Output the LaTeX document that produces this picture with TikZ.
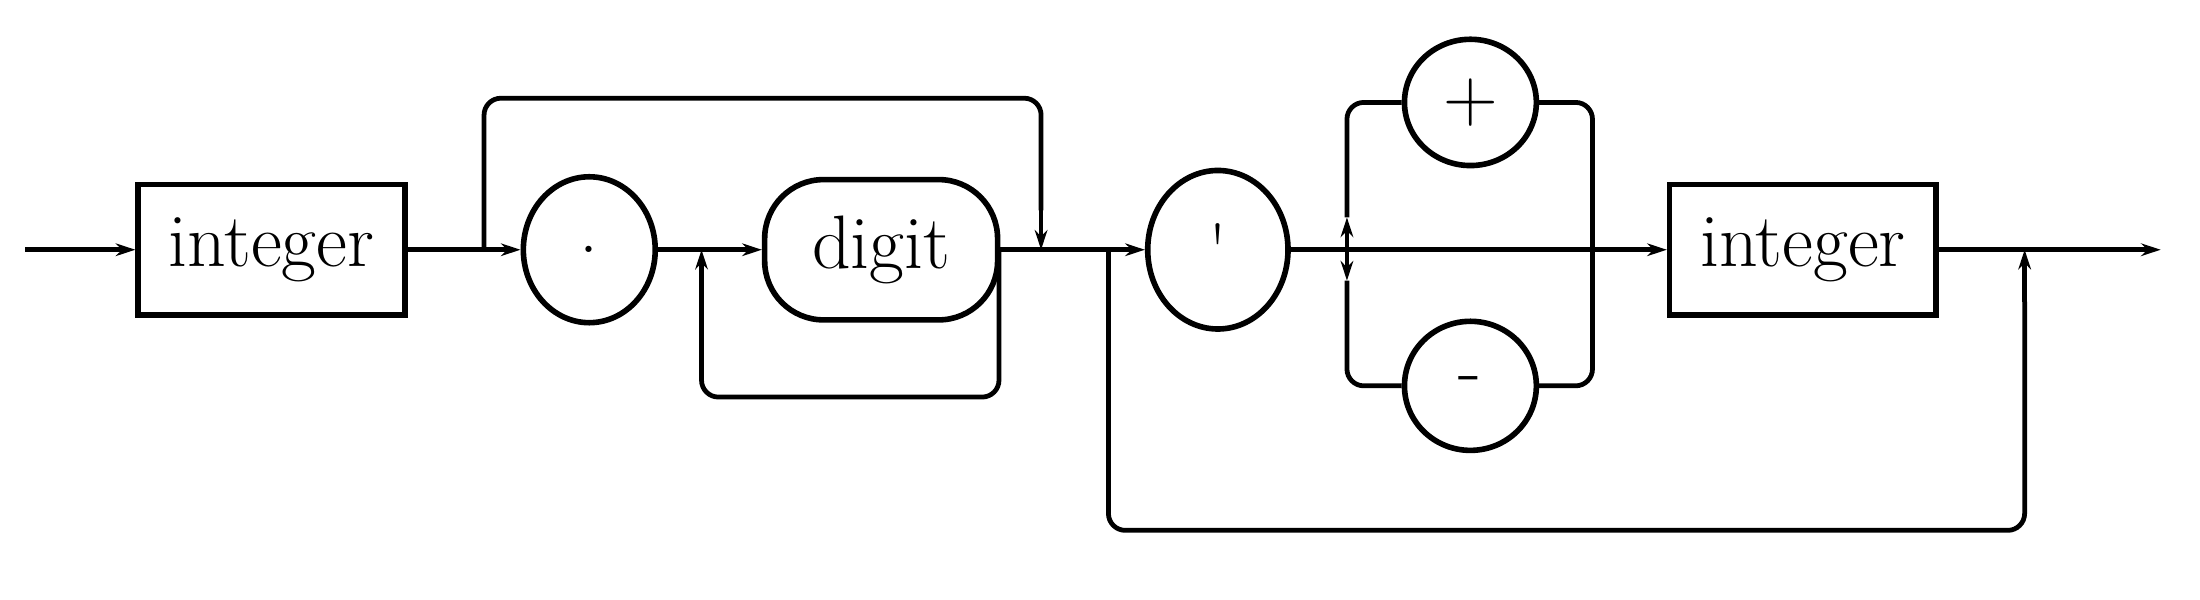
\documentclass[tikz,border=0pt]{standalone}
\usetikzlibrary{shapes.geometric,arrows.meta,decorations.markings}
\begin{document}
\begin{tikzpicture}[x=1pt,y=-1pt,
  line/.style={line width=3.4pt,rounded corners=12pt},
  arr/.style={-{Stealth[length=14pt,width=9pt]}},
  txt/.style={font=\fontsize{54}{60}\selectfont},
  box/.style={draw,line width=4pt,minimum width=190pt,minimum height=93pt,inner sep=0pt,txt},
  oval/.style={draw,ellipse,line width=4pt,inner sep=0pt,txt},
  rbox/.style={draw,line width=4pt,rounded corners=42pt,minimum width=166pt,minimum height=100pt,inner sep=0pt,txt}]
\useasboundingbox (0,0) rectangle (1568,427);
\node[box] (int1) at (193.5,178) {integer};
\node[oval,minimum width=94pt,minimum height=104pt] (dot) at (420,178) {.};
\node[rbox] (digit) at (628,178) {digit};
\node[oval,minimum width=100pt,minimum height=113pt] (q) at (868,178) {\textquotesingle};
\node[oval,minimum width=94pt,minimum height=90pt] (plus) at (1048,73) {+};
\node[oval,minimum width=94pt,minimum height=92pt] (minus) at (1048,275) {-};
\node[box] (int2) at (1285,178) {integer};
\coordinate (s) at (18,178);
\coordinate (j1) at (345,178);
\coordinate (j2) at (500,178);
\coordinate (j3) at (742,178);
\coordinate (j4) at (790,178);
\coordinate (j5) at (960,178);
\coordinate (j7) at (1135,178);
\coordinate (j6) at (1443,178);
\coordinate (jd) at (712,178);
\coordinate (e) at (1540,178);
\draw[line,arr] (s) -- (int1.west);
\draw[line] (int1.east) -- (j1);
\draw[line,arr] (j1) -- (dot.west);
\draw[line] (j1) -- (345,70) -- (742,70) -- (742,150);
\draw[line,arr] (742,150) -- (j3);
\draw[line] (dot.east) -- (j2);
\draw[line,arr] (j2) -- (digit.west);
\draw[line] (jd) -- (712,283) -- (500,283) -- (500,215);
\draw[line,arr] (500,215) -- (j2);
\draw[line] (digit.east) -- (j4);
\draw[line,arr] (j4) -- (q.west);
\draw[line] (j4) -- (790,378) -- (1443,378) -- (1443,215);
\draw[line,arr] (1443,215) -- (j6);
\draw[line] (q.east) -- (j5);
\draw[line] (j5) -- (j7);
\draw[line,arr] (j5) -- (960,155);
\draw[line,arr] (j5) -- (960,200);
\draw[line] (960,155) -- (960,73) -- (plus.west);
\draw[line] (960,200) -- (960,275) -- (minus.west);
\draw[line] (plus.east) -- (1135,73) -- (j7);
\draw[line] (minus.east) -- (1135,275) -- (j7);
\draw[line,arr] (j7) -- (int2.west);
\draw[line,arr] (int2.east) -- (e);
\end{tikzpicture}
\end{document}
